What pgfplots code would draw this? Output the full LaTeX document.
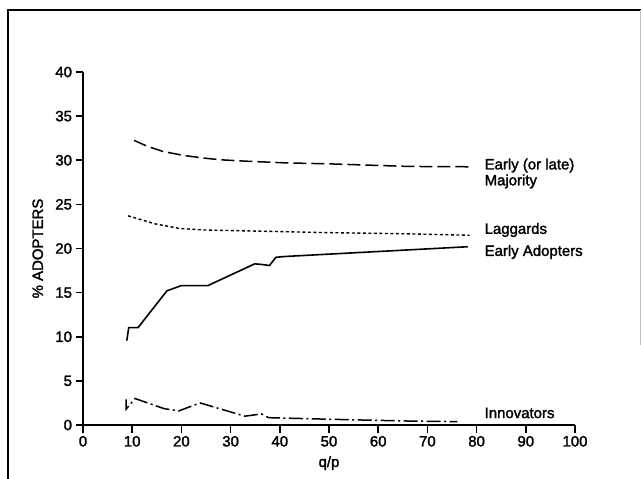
\documentclass[border=0pt]{standalone}
\usepackage{fontspec}
\setmainfont{Liberation Sans}
\newfontfamily\lblfont{Liberation Sans}[FakeBold=1.8]
\usepackage{pgfplots}
\pgfplotsset{compat=1.18}

\newcommand{\lbl}{\lblfont\fontsize{15}{17}\selectfont}

\begin{document}
\begin{tikzpicture}
\useasboundingbox (-83bp,-54bp) rectangle (558bp,425bp);
\begin{axis}[
  at={(0,0)}, anchor=south west,
  scale only axis, width=492bp, height=353bp,
  xmin=0, xmax=100, ymin=0, ymax=40,
  axis lines*=left,
  axis line style={line width=2.5bp},
  tick style={line width=1.6bp, black},
  tick align=outside, major tick length=7.5bp,
  xtick={0,10,...,100}, ytick={0,5,...,40},
  /pgf/number format/assume math mode=true,
  tick label style={font=\lbl},
  label style={font=\lbl},
  xlabel={q/p}, ylabel={\% ADOPTERS},
  xlabel style={at={(axis description cs:0.5,-0.108)}, anchor=center},
  ylabel style={at={(axis description cs:-0.092,0.5)}, anchor=center},
  clip=false,
]
% Early (or late) Majority
\addplot[black, mark=none, line width=1.5bp, dash pattern=on 13bp off 5bp] coordinates {
  (10.4,32.25) (13,31.6) (16.2,31.0) (20.4,30.55) (24.5,30.25) (28,30.05)
  (32.9,29.9) (41.2,29.7) (49.5,29.6) (57.8,29.45) (66.1,29.3) (78.6,29.26)};
% Laggards
\addplot[black, mark=none, line width=1.4bp, dash pattern=on 3bp off 2.5bp] coordinates {
  (9.15,23.7) (14.6,22.8) (19.6,22.27) (24.5,22.1) (32.9,22.0)
  (49.5,21.8) (66.1,21.66) (78.6,21.5)};
% Early Adopters
\addplot[black, mark=none, line width=1.6bp, solid] coordinates {
  (8.9,9.56) (9.3,11.04) (11.2,11.04) (17.05,15.2) (20,15.8) (25.4,15.8)
  (34.9,18.26) (36.2,18.2) (37.9,18.07) (39.2,19.0) (41.2,19.1) (78.2,20.2)};
% Innovators
\addplot[black, mark=none, line width=1.5bp, dash pattern=on 14bp off 3.5bp on 2bp off 3.5bp] coordinates {
  (8.74,2.9) (8.74,1.78) (10.57,3.0) (16.5,1.85) (19.5,1.6) (23.8,2.5)
  (32.9,1.0) (36.3,1.25) (37.7,0.83) (49.5,0.66) (56.3,0.57) (66.1,0.45) (76.1,0.38)};

\node[anchor=west, font=\lbl, inner sep=0pt] at (axis cs:81.6,29.4) {Early (or late)};
\node[anchor=west, font=\lbl, inner sep=0pt] at (axis cs:81.6,27.6) {Majority};
\node[anchor=west, font=\lbl, inner sep=0pt] at (axis cs:81.6,22.1) {Laggards};
\node[anchor=west, font=\lbl, inner sep=0pt] at (axis cs:81.6,19.6) {Early Adopters};
\node[anchor=west, font=\lbl, inner sep=0pt] at (axis cs:81.6,1.36) {Innovators};
\end{axis}
% frame of the scanned figure
\draw[line width=2bp] (-75bp,-54bp) -- (-75bp,415bp) -- (558bp,415bp);
\draw[line width=0.8bp, black!25] (557bp,415bp) -- (557bp,80bp);
\end{tikzpicture}
\end{document}
